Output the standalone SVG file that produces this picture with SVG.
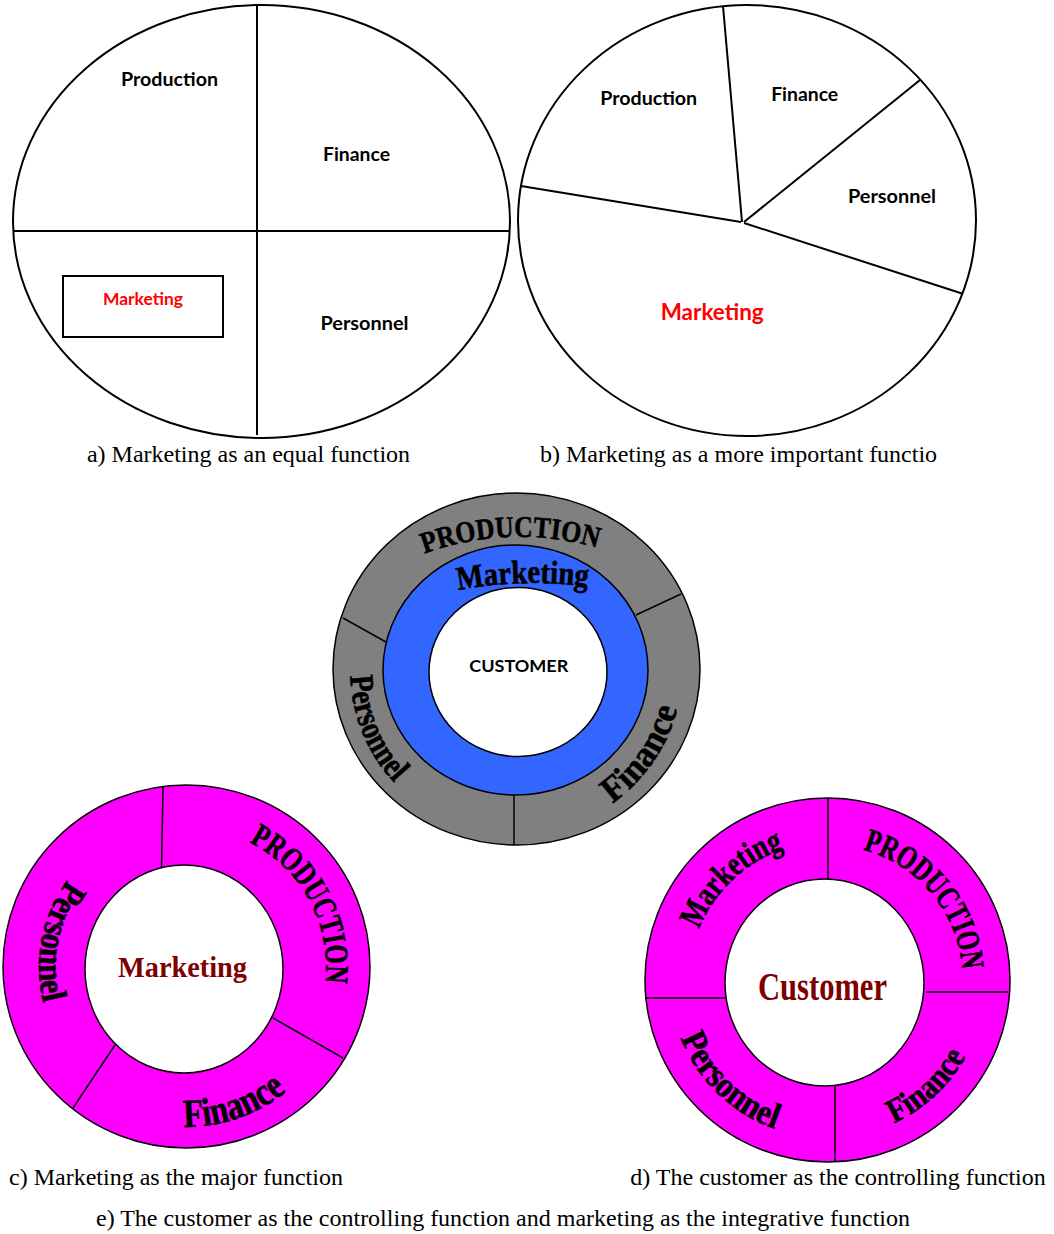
<svg xmlns="http://www.w3.org/2000/svg" width="1054" height="1234" viewBox="0 0 1054 1234">
<style>
.bg{fill:#ffffff}
.ol{fill:#ffffff;stroke:#000;stroke-width:2}
.ln{stroke:#000;stroke-width:2;fill:none}
.thin{stroke:#000;stroke-width:1.5}
.lbl{font-family:Lato,"Liberation Sans",sans-serif;font-weight:bold;fill:#000;text-anchor:middle}
.red{fill:#ff0000}
.cap{font-family:"Liberation Serif","Times New Roman",serif;font-size:24px;fill:#000;text-anchor:middle}
.wa{font-family:"Liberation Serif","Times New Roman",serif;font-weight:bold;fill:#000;stroke:#000;stroke-width:0.6;text-anchor:middle}
.mar{font-family:"Liberation Serif","Times New Roman",serif;font-weight:bold;fill:#800000;text-anchor:middle}
.mag{fill:#ff00ff;stroke:#000;stroke-width:1.5}
.wh{fill:#ffffff;stroke:#000;stroke-width:1.5}
</style>
<defs>
<path id="pM1" d="M 418,556 A 280 280 0 0 1 604,550"/>
<path id="pM2" d="M 450,592 A 400 400 0 0 1 596,588"/>
<path id="pM3" d="M 360,613.2 A 166 166 0 0 0 445.8,820.4"/>
<path id="pM4" d="M 553,830 A 167 167 0 0 0 681,644"/>
<path id="pC1" d="M 103.8,845.1 A 147 147 0 0 0 64.1,1049.2"/>
<path id="pC2" d="M 226.2,832.9 A 140 140 0 0 1 320.1,1007.2"/>
<path id="pC3" d="M 116.1,1110.9 A 160 160 0 0 0 329.9,1036.9"/>
<path id="pD1" d="M 689.5,976.4 A 138 138 0 0 1 831.1,842.1"/>
<path id="pD2" d="M 840.4,845.6 A 135 135 0 0 1 961.9,992.9"/>
<path id="pD3" d="M 669.5,982.8 A 158 158 0 0 0 830.3,1138"/>
<path id="pD4" d="M 822,1137.9 A 158 158 0 0 0 985.4,985.5"/>
</defs>
<rect class="bg" x="0" y="0" width="1054" height="1234"/>

<g id="diagram-a">
<ellipse class="ol" cx="261.5" cy="221.5" rx="248.5" ry="216.5"/>
<line class="ln" x1="257" y1="5" x2="257" y2="435"/>
<line class="ln" x1="13" y1="231" x2="510" y2="231"/>
<rect x="63" y="276" width="160" height="61" fill="none" stroke="#000" stroke-width="2"/>
<text class="lbl" x="169.5" y="86" font-size="19" textLength="97" lengthAdjust="spacingAndGlyphs">Production</text>
<text class="lbl" x="356.5" y="161" font-size="19" textLength="67" lengthAdjust="spacingAndGlyphs">Finance</text>
<text class="lbl red" x="143" y="305" font-size="17" textLength="80" lengthAdjust="spacingAndGlyphs">Marketing</text>
<text class="lbl" x="364.5" y="330" font-size="19" textLength="88" lengthAdjust="spacingAndGlyphs">Personnel</text>
<text class="cap" x="248.5" y="462">a) Marketing as an equal function</text>
</g>

<g id="diagram-b">
<ellipse class="ol" cx="747" cy="220.5" rx="229" ry="215.5"/>
<line class="ln" x1="742" y1="222" x2="723" y2="6"/>
<line class="ln" x1="741" y1="222" x2="521" y2="186"/>
<line class="ln" x1="744" y1="222" x2="920" y2="80"/>
<line class="ln" x1="744" y1="223" x2="962" y2="293.5"/>
<text class="lbl" x="648.7" y="105" font-size="19" textLength="97" lengthAdjust="spacingAndGlyphs">Production</text>
<text class="lbl" x="804.7" y="101" font-size="19" textLength="67" lengthAdjust="spacingAndGlyphs">Finance</text>
<text class="lbl" x="892" y="203" font-size="19" textLength="88" lengthAdjust="spacingAndGlyphs">Personnel</text>
<text class="lbl red" x="712.2" y="320" font-size="23" textLength="103" lengthAdjust="spacingAndGlyphs">Marketing</text>
<text class="cap" x="738.5" y="462">b) Marketing as a more important functio</text>
</g>

<g id="diagram-e">
<ellipse cx="516.5" cy="669" rx="183.5" ry="176" fill="#808080" stroke="#000" stroke-width="1.5"/>
<line class="thin" x1="636" y1="615" x2="681" y2="594"/>
<line class="thin" x1="343" y1="618" x2="386" y2="642"/>
<line class="thin" x1="514" y1="795" x2="514" y2="845"/>
<ellipse cx="515.5" cy="670" rx="132.5" ry="125" fill="#3366ff" stroke="#000" stroke-width="1.5"/>
<ellipse class="wh" cx="518" cy="672" rx="89" ry="84.5"/>
<text class="lbl" x="518.8" y="672" font-size="17" textLength="99" lengthAdjust="spacingAndGlyphs">CUSTOMER</text>
<text class="wa" font-size="30"><textPath href="#pM1" startOffset="50%" textLength="176" lengthAdjust="spacingAndGlyphs">PRODUCTION</textPath></text>
<text class="wa" font-size="33"><textPath href="#pM2" startOffset="50%" textLength="130" lengthAdjust="spacingAndGlyphs">Marketing</textPath></text>
<text class="wa" font-size="34"><textPath href="#pM3" startOffset="50%" textLength="118" lengthAdjust="spacingAndGlyphs">Personnel</textPath></text>
<text class="wa" font-size="36"><textPath href="#pM4" startOffset="50%" textLength="117" lengthAdjust="spacingAndGlyphs">Finance</textPath></text>
</g>

<g id="diagram-c">
<ellipse class="mag" cx="186.5" cy="966.5" rx="183.5" ry="181.5"/>
<line class="thin" x1="163" y1="787" x2="161.5" y2="868"/>
<line class="thin" x1="273" y1="1018" x2="343" y2="1058"/>
<line class="thin" x1="115" y1="1045" x2="73" y2="1108"/>
<ellipse class="wh" cx="184" cy="969" rx="99" ry="104"/>
<text class="mar" x="182.5" y="977" font-size="30" textLength="129" lengthAdjust="spacingAndGlyphs">Marketing</text>
<text class="wa" font-size="36"><textPath href="#pC1" startOffset="50%" textLength="130" lengthAdjust="spacingAndGlyphs">Personnel</textPath></text>
<text class="wa" font-size="33"><textPath href="#pC2" startOffset="50%" textLength="170" lengthAdjust="spacingAndGlyphs">PRODUCTION</textPath></text>
<text class="wa" font-size="40"><textPath href="#pC3" startOffset="50%" textLength="111" lengthAdjust="spacingAndGlyphs">Finance</textPath></text>
<text class="cap" x="176" y="1185">c) Marketing as the major function</text>
</g>

<g id="diagram-d">
<ellipse class="mag" cx="827.5" cy="980" rx="182.5" ry="182"/>
<line class="thin" x1="828" y1="798" x2="828" y2="879"/>
<line class="thin" x1="926" y1="992" x2="1008" y2="992"/>
<line class="thin" x1="645" y1="998" x2="725" y2="998"/>
<line class="thin" x1="835" y1="1086" x2="835" y2="1162"/>
<ellipse class="wh" cx="824.5" cy="982.5" rx="99.5" ry="103.5"/>
<text class="mar" x="822.5" y="1000" font-size="40" textLength="129" lengthAdjust="spacingAndGlyphs">Customer</text>
<text class="wa" font-size="34"><textPath href="#pD1" startOffset="50%" textLength="120" lengthAdjust="spacingAndGlyphs">Marketing</textPath></text>
<text class="wa" font-size="33"><textPath href="#pD2" startOffset="50%" textLength="166" lengthAdjust="spacingAndGlyphs">PRODUCTION</textPath></text>
<text class="wa" font-size="36"><textPath href="#pD3" startOffset="50%" textLength="135" lengthAdjust="spacingAndGlyphs">Personnel</textPath></text>
<text class="wa" font-size="34"><textPath href="#pD4" startOffset="50%" textLength="100" lengthAdjust="spacingAndGlyphs">Finance</textPath></text>
<text class="cap" x="838" y="1185">d) The customer as the controlling function</text>
</g>

<text class="cap" x="503" y="1226">e) The customer as the controlling function and marketing as the integrative function</text>
</svg>
